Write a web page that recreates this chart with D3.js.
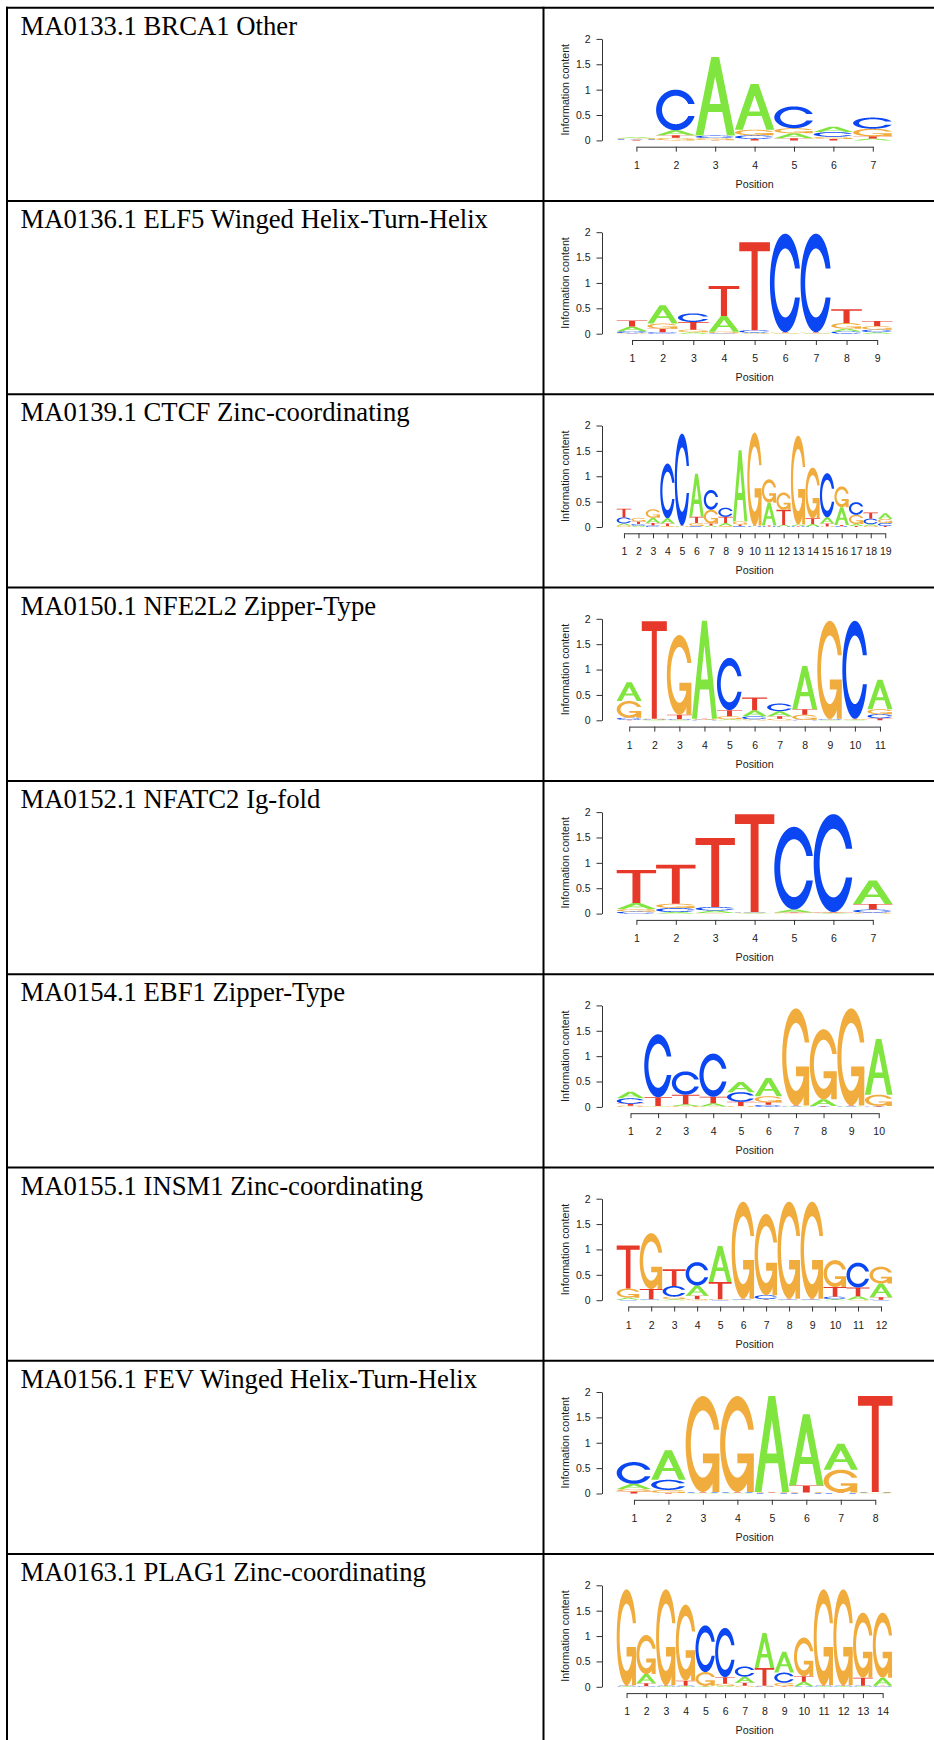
<!DOCTYPE html>
<html><head><meta charset="utf-8">
<script src="https://cdn.jsdelivr.net/npm/d3@7"></script>
<style>body{margin:0;background:#fff} svg{display:block}</style>
</head><body>
<svg id="chart" width="934" height="1740"></svg>
<script>
// ---------------- DATA ----------------
const motifIds = ["MA0133.1","MA0136.1","MA0139.1","MA0150.1","MA0152.1","MA0154.1","MA0155.1","MA0156.1","MA0163.1"];
const motifNames = ["BRCA1","ELF5","CTCF","NFE2L2","NFATC2","EBF1","INSM1","FEV","PLAG1"];
const motifClasses = ["Other","Winged Helix-Turn-Helix","Zinc-coordinating","Zipper-Type","Ig-fold","Zipper-Type","Zinc-coordinating","Winged Helix-Turn-Helix","Zinc-coordinating"];
const bases = ["A","C","G","T"];
const yTicks = [0, 0.5, 1, 1.5, 2];
const yTickLabels = ["0","0.5","1","1.5","2"];
const yLabel = "Information content";
const xLabel = "Position";

// information content (bits) per position, columns [A, C, G, T]
const bitsBRCA1 = [
  [0.02,0.015,0.015,0.01],[0.10,0.80,0.05,0.05],[1.55,0.05,0.04,0.005],[0.90,0.07,0.11,0.03],
  [0.10,0.43,0.10,0.04],[0.105,0.095,0.04,0.03],[0.035,0.22,0.15,0.045]];
const bitsELF5 = [
  [0.09,0.04,0.01,0.12],[0.36,0.03,0.10,0.07],[0.03,0.17,0.05,0.15],[0.31,0.01,0.03,0.59],
  [0.01,0.05,0.01,1.73],[0.01,1.94,0.01,0.01],[0.01,1.94,0.01,0.01],[0.055,0.045,0.11,0.27],
  [0.03,0.05,0.07,0.10]];
const bitsCTCF = [
  [0.04,0.12,0.03,0.17],[0.025,0.035,0.07,0.05],[0.10,0.03,0.17,0.05],[0.10,1.08,0.02,0.05],
  [0.01,1.81,0.01,0.01],[0.85,0.02,0.06,0.12],[0.03,0.39,0.27,0.04],[0.06,0.18,0.02,0.12],
  [1.40,0.02,0.06,0.03],[0.01,0.01,1.83,0.01],[0.45,0.01,0.46,0.02],[0.03,0.01,0.34,0.30],
  [0.03,0.01,1.75,0.01],[0.05,0.01,1.00,0.11],[0.12,0.87,0.01,0.06],[0.35,0.015,0.41,0.025],
  [0.04,0.25,0.18,0.02],[0.03,0.11,0.025,0.12],[0.11,0.06,0.08,0.02]];
const bitsNFE2L2 = [
  [0.37,0.04,0.33,0.01],[0.01,0.01,0.01,1.92],[0.01,0.01,1.57,0.09],[1.93,0.01,0.01,0.01],
  [0.02,1.03,0.06,0.12],[0.12,0.06,0.02,0.25],[0.10,0.15,0.03,0.05],[0.85,0.01,0.10,0.11],
  [0.01,0.01,1.93,0.01],[0.01,1.93,0.01,0.01],[0.58,0.08,0.10,0.04]];
const bitsNFATC2 = [
  [0.12,0.04,0.05,0.65],[0.03,0.08,0.085,0.77],[0.05,0.07,0.01,1.36],[0.01,0.01,0.01,1.93],
  [0.06,1.63,0.01,0.01],[0.01,1.93,0.01,0.01],[0.46,0.06,0.02,0.11]];
const bitsEBF1 = [
  [0.13,0.11,0.025,0.035],[0.01,1.24,0.01,0.17],[0.03,0.46,0.02,0.19],[0.06,0.85,0.01,0.13],
  [0.20,0.19,0.02,0.08],[0.36,0.04,0.12,0.05],[0.01,0.01,1.91,0.01],[0.13,0.01,1.38,0.01],
  [0.01,0.01,1.91,0.01],[1.10,0.01,0.22,0.01]];
const bitsINSM1 = [
  [0.04,0.01,0.18,0.85],[0.01,0.01,1.10,0.20],[0.02,0.21,0.05,0.33],[0.20,0.46,0.02,0.07],
  [0.71,0.01,0.01,0.34],[0.01,0.01,1.91,0.01],[0.01,0.08,1.60,0.01],[0.01,0.01,1.91,0.01],
  [0.01,0.01,1.91,0.01],[0.02,0.05,0.53,0.19],[0.07,0.49,0.01,0.17],[0.27,0.01,0.33,0.05]];
const bitsFEV = [
  [0.10,0.43,0.05,0.04],[0.58,0.20,0.06,0.01],[0.01,0.01,1.89,0.01],[0.01,0.01,1.89,0.01],
  [1.89,0.01,0.01,0.01],[1.40,0.01,0.01,0.14],[0.51,0.01,0.45,0.01],[0.01,0.01,0.01,1.89]];
const bitsPLAG1 = [
  [0.01,0.01,1.89,0.01],[0.18,0.01,0.77,0.06],[0.01,0.01,1.89,0.01],[0.01,0.01,1.50,0.10],
  [0.01,0.92,0.27,0.01],[0.02,0.97,0.04,0.13],[0.12,0.20,0.02,0.06],[0.69,0.01,0.01,0.35],
  [0.41,0.20,0.07,0.01],[0.09,0.01,0.76,0.11],[0.01,0.01,1.89,0.01],[0.01,0.01,1.89,0.01],
  [0.01,0.01,1.28,0.16],[0.16,0.01,1.28,0.01]];

const motifBits = [bitsBRCA1,bitsELF5,bitsCTCF,bitsNFE2L2,bitsNFATC2,bitsEBF1,bitsINSM1,bitsFEV,bitsPLAG1];

// ---------------- STYLE / LAYOUT ----------------
const baseColor = {A:"#80E53E", C:"#0A46F2", G:"#F1AC3E", T:"#E6392A"};
const rowTop0 = 7.7, rowStep = 193.3;
const tableLeft = 7, colDiv = 543.5, tableRight = 934;
const logoLeft = 616.7, logoRight = 892.5, yAxisX = 602;

const svg = d3.select("#chart");

// ---------- seqLogo-style letter polygons (unit box, y up) ----------
const N = 60;
const ang1 = d3.range(N).map(i => (0.3 + Math.PI/2) + i*(Math.PI/2 - 0.3)/(N-1));
const ang2 = d3.range(N).map(i => Math.PI + i*(Math.PI/2)/(N-1));
function ringPoly(){
  const l1 = ang1.map(a => [0.5+0.5*Math.sin(a), 0.5+0.5*Math.cos(a)]);
  const l2 = ang2.map(a => [0.5+0.5*Math.sin(a), 0.5+0.5*Math.cos(a)]);
  const lower = l1.concat(l2);
  const outer = lower.concat(lower.slice().reverse().map(([x,y]) => [x,1-y]));
  const ymax = d3.max(l1, d => d[1]);
  let i1 = ang1.map(a => [0.5+0.35*Math.sin(a), 0.5+0.35*Math.cos(a)]).filter(d => d[1] <= ymax);
  i1[0] = [i1[0][0], ymax];
  const i2 = ang2.map(a => [0.5+0.35*Math.sin(a), 0.5+0.35*Math.cos(a)]);
  const il = i1.concat(i2);
  const inner = il.concat(il.slice().reverse().map(([x,y]) => [x,1-y]));
  return {poly: outer.concat(inner.slice().reverse()), r1: d3.max(l1, d => d[0])};
}
const ring = ringPoly();
const r1 = ring.r1, h1 = 0.4;
const glyphs = {
  A: [[[0,0],[0.4,1],[0.6,1],[1,0],[0.8,0],[0.68,0.3],[0.32,0.3],[0.2,0]],
      [[0.36,0.4],[0.5,0.75],[0.64,0.4]]],
  T: [[[0,1],[1,1],[1,0.9],[0.6,0.9],[0.6,0],[0.4,0],[0.4,0.9],[0,0.9]]],
  C: [ring.poly],
  G: [ring.poly, [[r1,h1],[0.5,h1],[0.5,h1-0.1],[r1-0.2,h1-0.1],[r1-0.2,0],[r1,0]]]
};

function polyPath(pts, x0, x1, yb, yt){
  return "M" + pts.map(([u,v]) => (x0 + u*(x1-x0)).toFixed(2) + "," + (yb - v*(yb-yt)).toFixed(2)).join("L") + "Z";
}

// ---------------- TABLE ----------------
const nRows = motifIds.length;
const lineYs = d3.range(nRows + 1).map(k => rowTop0 + k*rowStep);
svg.append("g").selectAll("line").data(lineYs).join("line")
  .attr("x1", tableLeft - 1).attr("x2", tableRight).attr("y1", d => d).attr("y2", d => d)
  .attr("stroke", "#000").attr("stroke-width", 2);
svg.append("g").selectAll("line").data([tableLeft, colDiv]).join("line")
  .attr("x1", d => d).attr("x2", d => d).attr("y1", rowTop0 - 1).attr("y2", 1740)
  .attr("stroke", "#000").attr("stroke-width", 2);

// ---------------- ROWS ----------------
const font = "'Liberation Sans',Arial,Helvetica,sans-serif";
motifBits.forEach((bits, k) => {
  const T = rowTop0 + k*rowStep;
  const n = bits.length;
  svg.append("text")
    .attr("x", 20.5).attr("y", T + 27)
    .attr("font-family", "'Liberation Serif','Times New Roman',serif")
    .attr("font-size", 26.7).attr("fill", "#000")
    .text(`${motifIds[k]} ${motifNames[k]} ${motifClasses[k]}`);

  const x = d3.scaleLinear().domain([0.5, n + 0.5]).range([logoLeft, logoRight]);
  const y = d3.scaleLinear().domain([0, 2]).range([T + 132.7, T + 31.2]);
  const g = svg.append("g");

  // letters, stacked smallest at the bottom
  bits.forEach((col, i) => {
    const stack = bases.map((b, j) => ({b, h: col[j]})).sort((p, q) => p.h - q.h);
    let cum = 0;
    const pos = i + 1;
    stack.forEach(s => {
      const yb = y(cum), yt = y(cum + s.h);
      cum += s.h;
      if (s.b === "A") {
        g.append("path")
          .attr("d", glyphs.A.map(p => polyPath(p, x(pos-0.5), x(pos+0.5), yb, yt)).join(""))
          .attr("fill", baseColor.A).attr("fill-rule", "evenodd");
      } else {
        glyphs[s.b].forEach(p => {
          g.append("path").attr("d", polyPath(p, x(pos-0.5), x(pos+0.5), yb, yt)).attr("fill", baseColor[s.b]);
        });
      }
    });
  });

  // y axis
  const ya = g.append("g").attr("transform", `translate(${yAxisX},0)`)
    .call(d3.axisLeft(y).tickValues(yTicks).tickFormat((d, i) => yTickLabels[i])
      .tickSize(5.5).tickSizeOuter(0).tickPadding(6));
  // x axis
  const y0 = y(0);
  const xa = g.append("g").attr("transform", `translate(0,${y0 + 6.3})`)
    .call(d3.axisBottom(x).tickValues(d3.range(1, n + 1)).tickFormat(d3.format("d"))
      .tickSize(5).tickSizeOuter(0).tickPadding(9.6));
  xa.select(".domain").attr("d", `M${x(1) + 0.5},0.5H${x(n) + 0.5}`);
  [ya, xa].forEach(a => {
    a.selectAll("path,line").attr("stroke", "#333").attr("stroke-width", 1);
    a.selectAll("text").attr("font-family", font).attr("font-size", 10.5).attr("fill", "#1a1a1a");
  });
  g.append("text")
    .attr("transform", `translate(569,${(y(0) + y(2)) / 2}) rotate(-90)`)
    .attr("text-anchor", "middle").attr("font-family", font).attr("font-size", 10.7).attr("fill", "#1a1a1a")
    .text(yLabel);
  g.append("text")
    .attr("x", (logoLeft + logoRight) / 2).attr("y", y0 + 47.4)
    .attr("text-anchor", "middle").attr("font-family", font).attr("font-size", 10.7).attr("fill", "#1a1a1a")
    .text(xLabel);
});
</script>
</body></html>
